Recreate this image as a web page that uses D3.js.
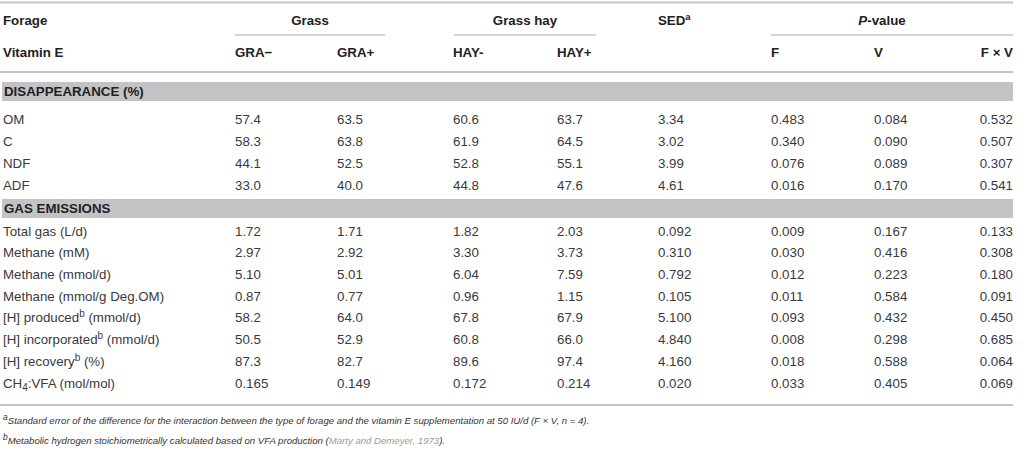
<!DOCTYPE html>
<html>
<head>
<meta charset="utf-8">
<script src="https://cdn.jsdelivr.net/npm/d3@7"></script>
<style>
  html, body { margin: 0; padding: 0; background: #fff; }
  svg { display: block; font-family: "Liberation Sans", Arial, Helvetica, sans-serif; }
  .hd { font-weight: bold; fill: #222; font-size: 13.3px; }
  .cell { fill: #3a3a3a; font-size: 13.3px; }
  .band-text { font-weight: bold; fill: #222; font-size: 13.3px; }
  .note { font-style: italic; fill: #333; font-size: 9.6px; }
</style>
</head>
<body>
<div id="chart"></div>
<script>
var table1 = (function () {

    "use strict";

    // Table content
    var sections = ["DISAPPEARANCE (%)", "GAS EMISSIONS"],
        rowLabels = ["OM", "C", "NDF", "ADF",
            "Total gas (L/d)", "Methane (mM)", "Methane (mmol/d)", "Methane (mmol/g Deg.OM)",
            "[H] produced", "[H] incorporated", "[H] recovery", "CH4:VFA (mol/mol)"],
        rowSection = [0, 0, 0, 0, 1, 1, 1, 1, 1, 1, 1, 1],
        graMinus = [57.4, 58.3, 44.1, 33.0, 1.72, 2.97, 5.10, 0.87, 58.2, 50.5, 87.3, 0.165],
        graPlus = [63.5, 63.8, 52.5, 40.0, 1.71, 2.92, 5.01, 0.77, 64.0, 52.9, 82.7, 0.149],
        hayMinus = [60.6, 61.9, 52.8, 44.8, 1.82, 3.30, 6.04, 0.96, 67.8, 60.8, 89.6, 0.172],
        hayPlus = [63.7, 64.5, 55.1, 47.6, 2.03, 3.73, 7.59, 1.15, 67.9, 66.0, 97.4, 0.214],
        valueDecimals = [1, 1, 1, 1, 2, 2, 2, 2, 1, 1, 1, 3],
        sed = [3.34, 3.02, 3.99, 4.61, 0.092, 0.310, 0.792, 0.105, 5.100, 4.840, 4.160, 0.020],
        sedDecimals = [2, 2, 2, 2, 3, 3, 3, 3, 3, 3, 3, 3],
        pF = [0.483, 0.340, 0.076, 0.016, 0.009, 0.030, 0.012, 0.011, 0.093, 0.008, 0.018, 0.033],
        pV = [0.084, 0.090, 0.089, 0.170, 0.167, 0.416, 0.223, 0.584, 0.432, 0.298, 0.588, 0.405],
        pFV = [0.532, 0.507, 0.307, 0.541, 0.133, 0.308, 0.180, 0.091, 0.450, 0.685, 0.064, 0.069],
        columnKeys = ["gram", "grap", "haym", "hayp", "sed", "pf", "pv", "pfv"],
        columnHeads = ["GRA\u2212", "GRA+", "HAY-", "HAY+", "", "F", "V", "F \u00d7 V"],
        footnotes = [
            {mark: "a", text: "Standard error of the difference for the interaction between the type of forage and the vitamin E supplementation at 50 IU/d (F \u00d7 V, n = 4).", cite: ""},
            {mark: "b", text: "Metabolic hydrogen stoichiometrically calculated based on VFA production (", cite: "Marty and Demeyer, 1973", tail: ")."}
        ];

    var width = 1032,
        height = 458,
        right = 1013;

    function fmt(v, d) {
        return d3.format("." + d + "f")(v);
    }

    function buildRows() {
        var rows = [];
        for (var i = 0; i < rowLabels.length; i++) {
            rows.push({
                label: rowLabels[i],
                section: rowSection[i],
                gram: fmt(graMinus[i], valueDecimals[i]),
                grap: fmt(graPlus[i], valueDecimals[i]),
                haym: fmt(hayMinus[i], valueDecimals[i]),
                hayp: fmt(hayPlus[i], valueDecimals[i]),
                sed: fmt(sed[i], sedDecimals[i]),
                pf: fmt(pF[i], 3),
                pv: fmt(pV[i], 3),
                pfv: fmt(pFV[i], 3)
            });
        }
        return rows;
    }

    // small raised / lowered text inside a text element (shift in px)
    function script(t, str, shift, size) {
        t.append("tspan").attr("dy", shift).style("font-size", size + "px").text(str);
        return -shift;
    }

    function render() {
        var svg = d3.select("#chart").append("svg")
            .attr("width", width)
            .attr("height", height);

        // column positions
        var x = d3.scaleOrdinal()
            .domain(columnKeys)
            .range([235, 337, 453, 557, 658, 771, 874, right]);

        var rows = buildRows();

        // vertical layout: one linear scale per section
        var sectionTop = [82, 199],
            bandHeight = 19,
            yScales = [
                d3.scaleLinear().domain([0, 1]).range([119, 141]),
                d3.scaleLinear().domain([0, 1]).range([231, 252.7])
            ],
            counters = [0, 0];
        rows.forEach(function (r) {
            r.y = yScales[r.section](counters[r.section]);
            counters[r.section] += 1;
        });

        function hline(y, x1, x2, w) {
            svg.append("line")
                .attr("x1", x1).attr("x2", x2)
                .attr("y1", y).attr("y2", y)
                .attr("stroke", "#c6c6c6")
                .attr("stroke-width", w);
        }

        /* header */
        hline(2.5, 0, right, 2);
        hline(72, 0, right, 2);
        hline(35, 235, 385, 1.5);
        hline(35, 454, 596, 1.5);
        hline(35, 771, right, 1.5);

        var h1 = 20, h2 = 52;
        svg.append("text").attr("class", "hd").attr("x", 3).attr("y", h1).attr("dy", "0.35em").text("Forage");
        svg.append("text").attr("class", "hd").attr("x", 310).attr("y", h1).attr("dy", "0.35em")
            .attr("text-anchor", "middle").text("Grass");
        svg.append("text").attr("class", "hd").attr("x", 525).attr("y", h1).attr("dy", "0.35em")
            .attr("text-anchor", "middle").text("Grass hay");
        var sedHead = svg.append("text").attr("class", "hd").attr("x", x("sed")).attr("y", h1).attr("dy", "0.35em");
        sedHead.append("tspan").text("SED");
        script(sedHead, "a", -5, 9.5);
        var pHead = svg.append("text").attr("class", "hd").attr("x", 882).attr("y", h1).attr("dy", "0.35em")
            .attr("text-anchor", "middle");
        pHead.append("tspan").style("font-style", "italic").text("P");
        pHead.append("tspan").text("-value");

        svg.append("text").attr("class", "hd").attr("x", 3).attr("y", h2).attr("dy", "0.35em").text("Vitamin E");
        svg.selectAll("text.colhead")
            .data(columnKeys.filter(function (k, i) { return columnHeads[i] !== ""; }))
            .enter()
            .append("text")
            .attr("class", "hd colhead")
            .attr("x", function (k) { return x(k); })
            .attr("y", h2)
            .attr("dy", "0.35em")
            .attr("text-anchor", function (k) { return k === "pfv" ? "end" : "start"; })
            .text(function (k) { return columnHeads[columnKeys.indexOf(k)]; });

        /* section bands */
        svg.selectAll("rect.band")
            .data(sections)
            .enter()
            .append("rect")
            .attr("class", "band")
            .attr("x", 2)
            .attr("y", function (d, i) { return sectionTop[i]; })
            .attr("width", right - 2)
            .attr("height", bandHeight)
            .attr("fill", "#c3c3c6");

        svg.selectAll("text.band-text")
            .data(sections)
            .enter()
            .append("text")
            .attr("class", "band-text")
            .attr("x", 4)
            .attr("y", function (d, i) { return sectionTop[i] + bandHeight / 2; })
            .attr("dy", "0.35em")
            .text(function (d) { return d; });

        /* body rows */
        var row = svg.selectAll("g.row")
            .data(rows)
            .enter()
            .append("g")
            .attr("class", "row")
            .attr("transform", function (d) { return "translate(0," + d.y + ")"; });

        row.append("text")
            .attr("class", "cell")
            .attr("x", 3)
            .attr("dy", "0.35em")
            .each(function (d) {
                var t = d3.select(this), back;
                if (d.label.indexOf("[H]") === 0) {
                    var unit = d.label === "[H] recovery" ? " (%)" : " (mmol/d)";
                    t.append("tspan").text(d.label);
                    back = script(t, "b", -5, 10);
                    t.append("tspan").attr("dy", back).text(unit);
                } else if (d.label.indexOf("CH4") === 0) {
                    t.append("tspan").text("CH");
                    back = script(t, "4", 3.5, 10);
                    t.append("tspan").attr("dy", back).text(d.label.slice(3));
                } else {
                    t.text(d.label);
                }
            });

        columnKeys.forEach(function (k) {
            row.append("text")
                .attr("class", "cell")
                .attr("x", x(k))
                .attr("dy", "0.35em")
                .attr("text-anchor", k === "pfv" ? "end" : "start")
                .text(function (d) { return d[k]; });
        });

        /* bottom rule and footnotes */
        hline(405, 0, right, 2);

        var noteY = d3.scaleLinear().domain([0, 1]).range([424, 444]);
        footnotes.forEach(function (f, i) {
            var t = svg.append("text")
                .attr("class", "note")
                .attr("x", 3)
                .attr("y", noteY(i))
                .attr("dy", "0.35em");
            var back = script(t, f.mark, -4, 8.5);
            t.append("tspan").attr("dy", back).text(f.text);
            if (f.cite) {
                t.append("tspan").style("fill", "#9a9a9a").text(f.cite);
                t.append("tspan").text(f.tail);
            }
        });
    }

    return {
        render: render
    };

}());

table1.render();
</script>
</body>
</html>
